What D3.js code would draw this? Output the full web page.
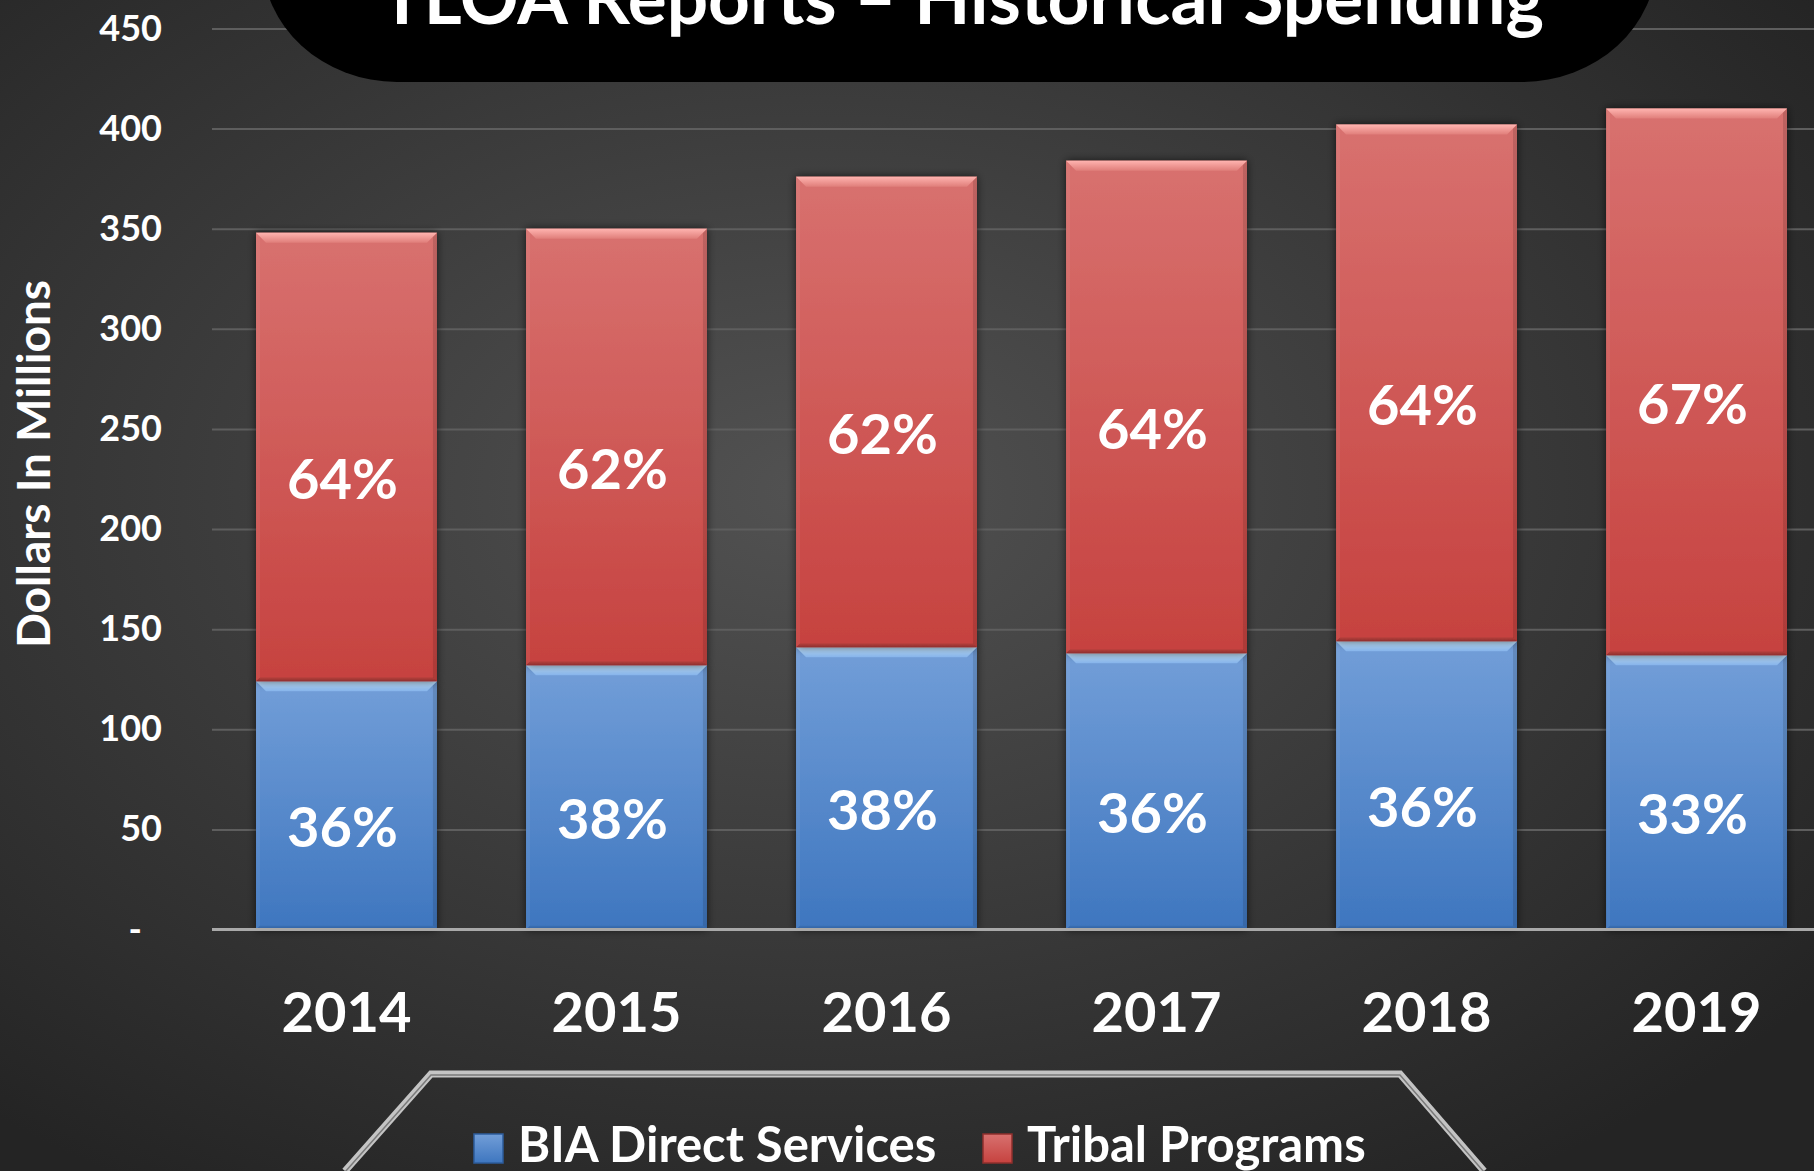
<!DOCTYPE html>
<html>
<head>
<meta charset="utf-8">
<script src="https://cdn.jsdelivr.net/npm/d3@7"></script>
<style>
  html, body { margin: 0; padding: 0; background: #2a2a2a; overflow: hidden; }
  svg { display: block; font-family: Lato, "Open Sans", sans-serif; font-weight: bold; }
</style>
</head>
<body>
<script>
// chart data
const years = ["2014", "2015", "2016", "2017", "2018", "2019"]
const biaDirect = [124, 132, 141, 138, 144, 137]
const tribalPrograms = [224, 218, 235, 246, 258, 273]
const biaPct = ["36%", "38%", "38%", "36%", "36%", "33%"]
const tribalPct = ["64%", "62%", "62%", "64%", "64%", "67%"]
const yTicks = [0, 50, 100, 150, 200, 250, 300, 350, 400, 450]
const seriesNames = ["BIA Direct Services", "Tribal Programs"]
const titleText = "TLOA Reports \u2013 Historical Spending"
const yTitle = "Dollars In Millions"

const W = 1814, H = 1171

const svg = d3.select("body").append("svg")
  .attr("width", W)
  .attr("height", H)

const defs = svg.append("defs")

// achtergrond
const bg = defs.append("radialGradient").attr("id", "bg")
  .attr("cx", "45%").attr("cy", "42%").attr("r", "70%")
bg.append("stop").attr("offset", "0%").attr("stop-color", "#525252")
bg.append("stop").attr("offset", "100%").attr("stop-color", "#242424")

function vGrad(id, top, bottom){
  const g = defs.append("linearGradient").attr("id", id)
    .attr("x1", 0).attr("y1", 0).attr("x2", 0).attr("y2", 1)
  g.append("stop").attr("offset", "0%").attr("stop-color", top)
  g.append("stop").attr("offset", "100%").attr("stop-color", bottom)
}
vGrad("blue", "#729ed8", "#3e76bf")
vGrad("red", "#d8716f", "#c6423f")
vGrad("blueTop", "#c4e6ff", "#86b4ec")
vGrad("redTop", "#ffb4b0", "#e07e7a")
vGrad("blueBot", "#3d72b8", "#2d5c9c")
vGrad("redBot", "#b8413e", "#8f2f2d")

const shadow = defs.append("filter").attr("id", "shadow")
  .attr("x", "-10%").attr("y", "-10%").attr("width", "120%").attr("height", "120%")
shadow.append("feDropShadow").attr("dx", 0).attr("dy", 0)
  .attr("stdDeviation", 4).attr("flood-color", "#000").attr("flood-opacity", 0.65)

svg.append("rect").attr("width", W).attr("height", H).attr("fill", "url(#bg)")

const x = d3.scaleBand()
  .domain(years)
  .range([212, 1831])
  .paddingInner(0.33)
  .paddingOuter(0.163)

const y = d3.scaleLinear()
  .domain([0, 450])
  .range([929.5, 28.5])

// gridlines
svg.append("g")
  .attr("class", "grid")
  .attr("transform", `translate(212,0)`)
  .call(d3.axisLeft(y).tickValues(yTicks).tickSize(-(W - 212)).tickFormat(""))
  .call(g => g.select(".domain").remove())
  .call(g => g.selectAll("line").attr("stroke", "#5e5e5e").attr("stroke-width", 2))

// y axis labels
svg.append("g")
  .attr("class", "axis y")
  .attr("transform", `translate(212,0)`)
  .call(d3.axisLeft(y).tickValues(yTicks).tickSize(0).tickPadding(50)
    .tickFormat(d => d === 0 ? "-" : d))
  .call(g => g.select(".domain").remove())
  .call(g => g.selectAll("text")
    .attr("fill", "#fff")
    .style("font-size", "36px")
    .style("font-family", "Lato, sans-serif")
    .style("font-weight", "bold")
    .attr("dx", d => d === 0 ? -20 : 0))

// stacked bars
const table = years.map((yr, i) => ({year: yr, bia: biaDirect[i], tribal: tribalPrograms[i]}))
const stack = d3.stack().keys(["bia", "tribal"])(table)
const fills = ["blue", "red"]
const labels = [biaPct, tribalPct]

const b = 10
stack.forEach((layer, li) => {
  const g = svg.append("g").attr("class", "series s" + li)
  layer.forEach((d, i) => {
    const x0 = x(d.data.year), w = x.bandwidth()
    const y0 = y(d[1]), y1 = y(d[0]), h = y1 - y0
    const bar = g.append("g").attr("filter", "url(#shadow)")
    bar.append("rect")
      .attr("x", x0).attr("y", y0).attr("width", w).attr("height", h)
      .attr("fill", `url(#${fills[li]})`)
    // bevel randen
    bar.append("polygon")
      .attr("points", [[x0, y1], [x0 + w, y1], [x0 + w - b * 0.4, y1 - b * 0.4], [x0 + b * 0.4, y1 - b * 0.4]].join(" "))
      .attr("fill", `url(#${fills[li]}Bot)`)
    bar.append("polygon")
      .attr("points", [[x0 + w, y0], [x0 + w, y1], [x0 + w - 4, y1 - 4], [x0 + w - 4, y0 + 4]].join(" "))
      .attr("fill", "#000").attr("opacity", 0.12)
    bar.append("polygon")
      .attr("points", [[x0, y0], [x0, y1], [x0 + 4, y1 - 4], [x0 + 4, y0 + 4]].join(" "))
      .attr("fill", "#fff").attr("opacity", 0.06)
    bar.append("polygon")
      .attr("points", [[x0, y0], [x0 + w, y0], [x0 + w - b, y0 + b], [x0 + b, y0 + b]].join(" "))
      .attr("fill", `url(#${fills[li]}Top)`)
  })
  g.selectAll("text.pct")
    .data(layer)
    .enter().append("text")
    .attr("class", "pct")
    .attr("x", d => x(d.data.year) + x.bandwidth() / 2 - 4)
    .attr("y", d => (y(d[0]) + y(d[1])) / 2 + 42)
    .attr("text-anchor", "middle")
    .attr("fill", "#fff")
    .style("font-size", "56px")
    .text((d, i) => labels[li][i])
})

// x axis
svg.append("g")
  .attr("class", "axis x")
  .attr("transform", `translate(0,${y(0)})`)
  .call(d3.axisBottom(x).tickSize(0))
  .call(g => g.select(".domain").remove())
  .call(g => g.selectAll("text")
    .attr("dy", null)
    .attr("y", 102)
    .attr("fill", "#fff")
    .style("font-size", "56px")
    .style("font-family", "Lato, sans-serif")
    .style("font-weight", "bold"))

svg.append("line")
  .attr("x1", 212).attr("x2", W)
  .attr("y1", y(0)).attr("y2", y(0))
  .attr("stroke", "#a9a9a9").attr("stroke-width", 3)

// y titel
svg.append("text")
  .attr("transform", `translate(50,464) rotate(-90)`)
  .attr("text-anchor", "middle")
  .attr("fill", "#fff")
  .style("font-size", "46px")
  .text(yTitle)

// titel blok
svg.append("rect")
  .attr("x", 262).attr("y", -300)
  .attr("width", 1395).attr("height", 382)
  .attr("rx", 135).attr("ry", 124)
  .attr("fill", "#000")
svg.append("text")
  .attr("x", 962).attr("y", 24)
  .attr("text-anchor", "middle")
  .attr("fill", "#fff")
  .style("font-size", "73px")
  .text(titleText)

// legenda
const trap = [[345, 1171], [431, 1074], [1400, 1074], [1484, 1171]]
svg.append("path")
  .attr("d", d3.line()(trap))
  .attr("fill", "none")
  .attr("stroke", "#c4c4c4")
  .attr("stroke-width", 7)
  .attr("stroke-linejoin", "miter")
svg.append("path")
  .attr("d", d3.line()(trap))
  .attr("fill", "none")
  .attr("stroke", "#7a7a7a")
  .attr("stroke-width", 1.5)
  .attr("transform", "translate(0,1)")

const legendX = [474, 983]
const legend = svg.append("g").attr("class", "legend")
seriesNames.forEach((name, i) => {
  legend.append("rect")
    .attr("x", legendX[i]).attr("y", 1134)
    .attr("width", 29).attr("height", 29)
    .attr("fill", `url(#${fills[i]})`)
    .attr("stroke", i === 0 ? "#2d5c9c" : "#8f2f2d").attr("stroke-width", 1.5)
  legend.append("text")
    .attr("x", legendX[i] + 44).attr("y", 1162)
    .attr("fill", "#fff")
    .style("font-size", "49px")
    .text(name)
})
</script>
</body>
</html>
